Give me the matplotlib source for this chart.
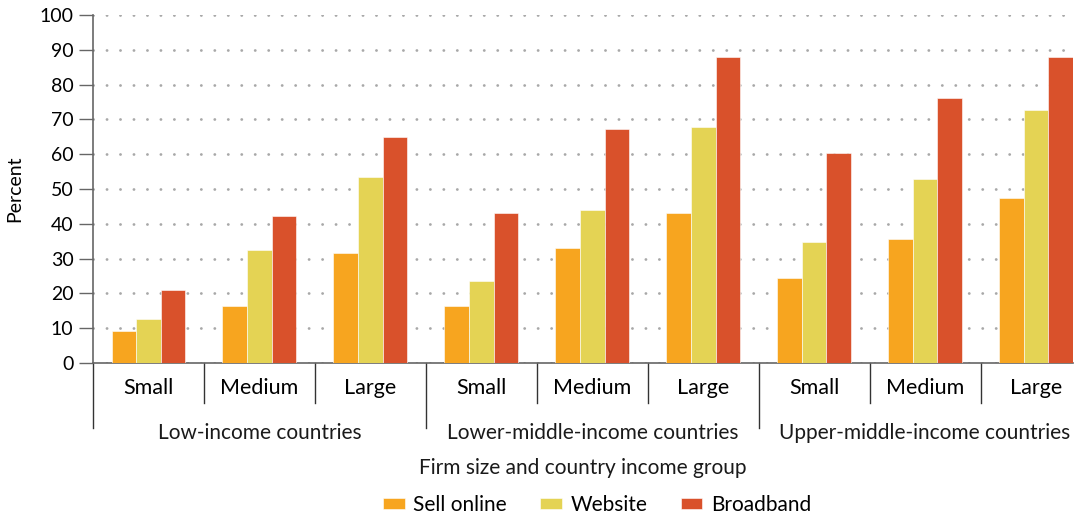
import matplotlib
import matplotlib.pyplot as plt
import numpy as np

matplotlib.use("Agg")

plt.rcParams["font.family"] = ["Lato", "DejaVu Sans"]
plt.rcParams["lines.scale_dashes"] = False

groups = ["Low-income countries", "Lower-middle-income countries", "Upper-middle-income countries"]
sizes = ["Small", "Medium", "Large"]
series_names = ["Sell online", "Website", "Broadband"]

sell_online = [9.2, 16.5, 31.5, 16.5, 33.0, 43.0, 24.5, 35.5, 47.5]
website = [12.7, 32.5, 53.5, 23.5, 44.0, 67.7, 34.7, 53.0, 72.8]
broadband = [21.0, 42.3, 65.0, 43.0, 67.3, 88.0, 60.3, 76.2, 88.0]

colors = ["#F7A51F", "#E4D354", "#D9512B"]

fig = plt.figure(figsize=(10.79, 5.18), dpi=100)
ax = fig.add_axes([93 / 1079, 1 - 363 / 518, 980 / 1079, 348 / 518])

n = len(sell_online)
x = np.arange(n)
bw = 0.222
for i, vals in enumerate([sell_online, website, broadband]):
    ax.bar(x + (i - 1) * bw, vals, width=bw, color=colors[i], edgecolor="white",
           linewidth=0.4, label=series_names[i], zorder=3)

ax.set_xlim(-0.5, n - 1 + 1.5 * bw)
ax.set_ylim(0, 100)
ax.set_yticks(range(0, 101, 10))
ax.tick_params(axis="y", length=10, width=1, color="#666666", labelsize=14, pad=4)
ax.tick_params(axis="x", length=0, labelsize=15.5, pad=11)
ax.set_xticks(x)
ax.set_xticklabels(sizes * len(groups))
ax.set_axisbelow(True)
ax.yaxis.grid(True, color="#a8a8a8", linewidth=2.0, linestyle=(0, (0.1, 9.6)),
              dash_capstyle="round")

for s in ["top", "right"]:
    ax.spines[s].set_visible(False)
ax.spines["left"].set_color("#666666")
ax.spines["bottom"].set_color("#666666")
ax.spines["left"].set_linewidth(1.2)
ax.spines["bottom"].set_linewidth(1.2)

# separators under the axis
trans = ax.get_xaxis_transform()
for b in range(n):
    edge = b - 0.5
    depth = -0.187 if b % 3 == 0 else -0.115
    ax.plot([edge, edge], [0, depth], transform=trans, color="#333333",
            linewidth=1, clip_on=False)

for g, name in enumerate(groups):
    ax.text(g * 3 + 1, -0.2, name, transform=trans, ha="center", va="center",
            fontsize=15, color="#1a1a1a")

ax.set_ylabel("Percent", fontsize=14, labelpad=12)
fig.text((93 + 1073) / 2 / 1079, 1 - 468 / 518, "Firm size and country income group",
         ha="center", va="center", fontsize=15, color="#1a1a1a")

fig.legend(loc="center", bbox_to_anchor=(597 / 1079, 1 - 505 / 518), ncol=3,
           frameon=False, fontsize=15, handlelength=1.05, handleheight=0.45,
           columnspacing=1.6, handletextpad=0.4)

fig.savefig("out.png", dpi=100)
